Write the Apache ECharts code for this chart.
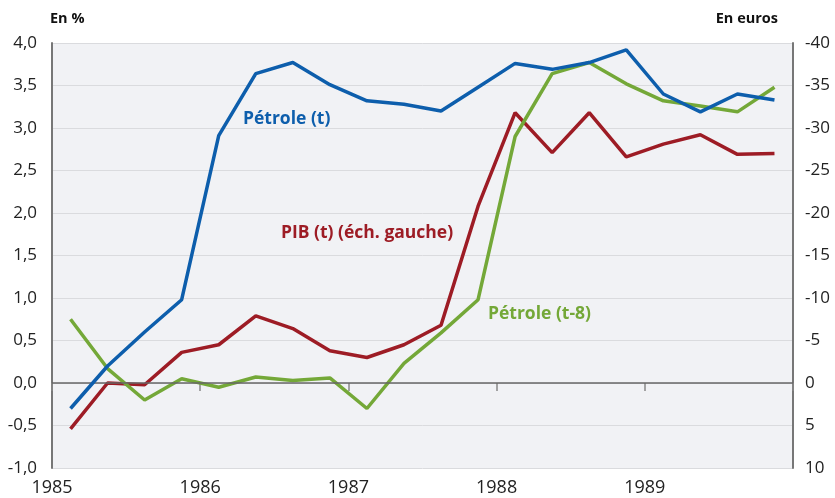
<!DOCTYPE html>
<html>
<head>
<meta charset="utf-8">
<script src="https://cdn.jsdelivr.net/npm/echarts@6/dist/echarts.min.js"></script>
<style>
html,body{margin:0;padding:0;background:#fff;}
#chart{width:835px;height:498px;}
</style>
</head>
<body>
<div id="chart"></div>
<script>
// Quarterly observation dates (mid-quarter positions)
var dates = [1985.125,1985.375,1985.625,1985.875,1986.125,1986.375,1986.625,1986.875,
             1987.125,1987.375,1987.625,1987.875,1988.125,1988.375,1988.625,1988.875,
             1989.125,1989.375,1989.625,1989.875];
// PIB (t), left axis, in %
var pib = [-0.54,0.00,-0.02,0.36,0.45,0.79,0.64,0.38,0.30,0.45,0.68,2.08,3.18,2.71,3.18,2.66,2.81,2.92,2.69,2.70];
// Pétrole (t), right axis, in euros (inverted)
var petrole = [3.0,-2.0,-6.0,-9.8,-29.1,-36.4,-37.7,-35.1,-33.2,-32.8,-32.0,-34.8,-37.6,-36.9,-37.7,-39.2,-34.0,-31.9,-34.0,-33.3];
// Pétrole (t-8), right axis, in euros (inverted)
var petrole8 = [-7.5,-1.7,2.0,-0.5,0.5,-0.7,-0.3,-0.6,3.0,-2.3,-5.9,-9.8,-29.0,-36.4,-37.7,-35.2,-33.2,-32.6,-31.9,-34.8];

var yearTicks = [1985,1986,1987,1988,1989];

function pairs(v){ return dates.map(function(d,i){ return [d, v[i]]; }); }

var FONT = '"Open Sans"';
var chart = echarts.init(document.getElementById('chart'));
chart.setOption({
  animation:false,
  textStyle:{fontFamily:FONT},
  grid:{left:52,right:42,top:43,bottom:30,show:true,backgroundColor:'#f1f2f5',borderWidth:0},
  xAxis:{
    type:'value',min:1985,max:1990,interval:1,
    axisLine:{show:false},
    axisTick:{show:true,length:8,lineStyle:{color:'#888',width:1.5}},
    splitLine:{show:false},
    axisLabel:{color:'#222',fontSize:18,fontFamily:FONT,margin:11,
      formatter:function(v){ return yearTicks.indexOf(v)>=0 ? String(v) : ''; }}
  },
  yAxis:[{
    type:'value',min:-1,max:4,interval:0.5,position:'left',
    name:'En %',nameLocation:'end',nameGap:17,
    nameTextStyle:{color:'#111',fontSize:14.5,fontWeight:'bold',fontFamily:FONT,align:'left',padding:[0,0,0,-2]},
    axisLine:{show:true,lineStyle:{color:'#777',width:2}},
    axisTick:{show:false},
    axisLabel:{color:'#222',fontSize:17,fontFamily:FONT,margin:15,
      formatter:function(v){ return v.toFixed(1).replace('.',','); }},
    splitLine:{show:true,lineStyle:{color:'#dadbde',width:1}}
  },{
    type:'value',min:-40,max:10,interval:5,inverse:true,position:'right',
    name:'En euros',nameLocation:'start',nameGap:17,
    nameTextStyle:{color:'#111',fontSize:14.5,fontWeight:'bold',fontFamily:FONT,align:'right',padding:[0,15,0,0]},
    axisLine:{show:true,lineStyle:{color:'#777',width:2}},
    axisTick:{show:false},
    axisLabel:{color:'#222',fontSize:17,fontFamily:FONT,margin:12},
    splitLine:{show:false}
  }],
  series:[{
    name:'PIB (t) (éch. gauche)',type:'line',yAxisIndex:0,data:pairs(pib),
    symbol:'none',lineStyle:{color:'#9d1c25',width:3.5},
    markLine:{silent:true,symbol:'none',label:{show:false},
      lineStyle:{color:'#666',width:1.5,type:'solid'},data:[{yAxis:0}]},
    z:3
  },{
    name:'Pétrole (t-8)',type:'line',yAxisIndex:1,data:pairs(petrole8),
    symbol:'none',lineStyle:{color:'#74a838',width:3.5},z:4
  },{
    name:'Pétrole (t)',type:'line',yAxisIndex:1,data:pairs(petrole),
    symbol:'none',lineStyle:{color:'#0d5eac',width:3.5},z:5
  }],
  graphic:[
    {type:'text',left:243,top:110,style:{text:'Pétrole (t)',fill:'#0d5eac',font:'bold 17.5px '+FONT}},
    {type:'text',left:281,top:224,style:{text:'PIB (t) (éch. gauche)',fill:'#9d1c25',font:'bold 17.5px '+FONT}},
    {type:'text',left:488,top:305,style:{text:'Pétrole (t-8)',fill:'#74a838',font:'bold 17.5px '+FONT}}
  ]
});
</script>
</body>
</html>
